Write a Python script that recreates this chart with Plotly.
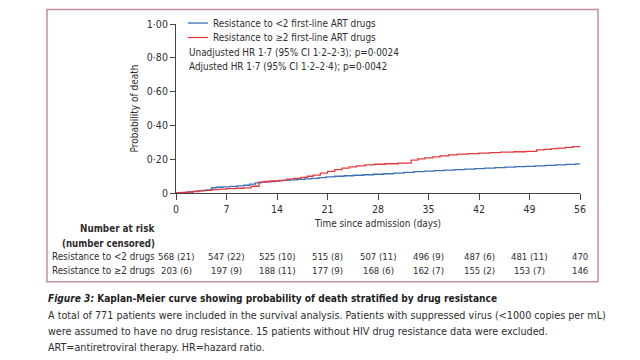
import plotly.graph_objects as go

# ---- data ----
days_lt2 = [0,0.6,1.2,1.8,2.4,3,3.6,4.2,4.9,5.6,6.5,7.5,8.5,9.4,10.2,11,11.8,12.8,13.8,14.8,
            15.8,16.8,17.8,18.8,19.8,20.8,22,23.3,24.6,26,27.4,28.8,30.2,31.6,33,34.4,35.8,37.2,38.6,40,
            41.4,42.8,44.2,45.6,47,48.4,49.8,51.2,52.6,54,55.4,56]
prob_lt2 = [0,0.002,0.004,0.007,0.010,0.013,0.016,0.019,0.031,0.034,0.036,0.039,0.042,0.046,0.052,0.060,0.064,0.068,0.072,0.075,
            0.078,0.081,0.084,0.087,0.091,0.095,0.099,0.102,0.105,0.108,0.111,0.114,0.118,0.122,0.126,0.129,0.132,0.135,0.138,0.141,
            0.144,0.147,0.150,0.153,0.156,0.158,0.161,0.164,0.166,0.169,0.172,0.173]
days_ge2 = [0,0.8,1.6,2.4,3.2,4,5,6,7,8.2,9.4,10.4,11.5,12.2,13.2,14.3,15.3,16.3,17.3,18.2,
            19,20,21,22,23,24,25,26.2,27.5,29,30.8,32.6,33.5,34.5,35.6,36.6,37.8,39,40.5,42,
            43.5,45,46.8,48.5,50,51,52,53,54,55,56]
prob_ge2 = [0,0.003,0.006,0.009,0.013,0.016,0.020,0.023,0.026,0.028,0.030,0.040,0.064,0.068,0.071,0.075,0.082,0.087,0.092,0.099,
            0.106,0.118,0.128,0.138,0.147,0.155,0.160,0.166,0.170,0.173,0.177,0.195,0.202,0.208,0.214,0.220,0.226,0.230,0.233,0.236,
            0.239,0.242,0.244,0.246,0.255,0.258,0.262,0.266,0.270,0.275,0.279]

x_ticks = [0, 7, 14, 21, 28, 35, 42, 49, 56]
y_ticks = [0, 0.2, 0.4, 0.6, 0.8, 1.0]
y_ticktext = ["0", "0·20", "0·40", "0·60", "0·80", "1·00"]

risk_lt2 = ["568 (21)", "547 (22)", "525 (10)", "515 (8)", "507 (11)", "496 (9)", "487 (6)", "481 (11)", "470"]
risk_ge2 = ["203 (6)", "197 (9)", "188 (11)", "177 (9)", "168 (6)", "162 (7)", "155 (2)", "153 (7)", "146"]

series_names = ["Resistance to <2 first-line ART drugs", "Resistance to ≥2 first-line ART drugs"]
row_names = ["Resistance to <2 drugs", "Resistance to ≥2 drugs"]
stats_lines = ["Unadjusted HR 1·7 (95% CI 1·2–2·3); p=0·0024",
               "Adjusted HR 1·7 (95% CI 1·2–2·4); p=0·0042"]
caption_title = "<b><i>Figure 3:</i> Kaplan-Meier curve showing probability of death stratified by drug resistance</b>"
caption_lines = ["A total of 771 patients were included in the survival analysis. Patients with suppressed virus (<1000 copies per mL)",
                 "were assumed to have no drug resistance. 15 patients without HIV drug resistance data were excluded.",
                 "ART=antiretroviral therapy. HR=hazard ratio."]

# ---- layout geometry (reference pixels; the page body adds an 8px offset) ----
OFF = 8
W, H = 640 - OFF, 360 - OFF
L, R, T, B = 176 - OFF, 580 - OFF, 18 - OFF, 193 - OFF
def px(xp):
    return (xp - OFF - L) / (R - L)
def py(yp):
    return (B - (yp - OFF)) / (B - T)

FONT = "DejaVu Sans Condensed, Liberation Sans, sans-serif"
TXT = "#2e2e2e"
BLUE = "#3a70b5"
RED = "#e23b3f"

fig = go.Figure()
fig.add_trace(go.Scatter(x=days_lt2, y=prob_lt2, mode="lines", line=dict(color=BLUE, width=1.3, shape="hv"),
                         name=series_names[0], showlegend=False))
fig.add_trace(go.Scatter(x=days_ge2, y=prob_ge2, mode="lines", line=dict(color=RED, width=1.3, shape="hv"),
                         name=series_names[1], showlegend=False))

shapes = []
annotations = []

# outer pink box
shapes.append(dict(type="rect", xref="paper", yref="paper", x0=px(47), x1=px(598), y0=py(285), y1=py(3),
                   line=dict(color="#c98ba0", width=1.5), layer="below"))

# legend
for i, (nm, col) in enumerate(zip(series_names, [BLUE, RED])):
    yy = py(17 + 15 * i)
    shapes.append(dict(type="line", xref="paper", yref="paper", x0=px(188), x1=px(208), y0=yy, y1=yy,
                       line=dict(color=col, width=1.3)))
    annotations.append(dict(xref="paper", yref="paper", x=px(211), y=yy, text=nm, showarrow=False,
                            xanchor="left", yanchor="middle", font=dict(family=FONT, size=9.9, color=TXT)))
for i, s in enumerate(stats_lines):
    annotations.append(dict(xref="paper", yref="paper", x=px(187), y=py(47 + 14.5 * i), text=s, showarrow=False,
                            xanchor="left", yanchor="middle", font=dict(family=FONT, size=9.9, color=TXT)))

# number at risk
RISK_FS = 9.8
annotations.append(dict(xref="paper", yref="paper", x=px(157), y=py(230), text="<b>Number at risk</b>",
                        showarrow=False, xanchor="right", yanchor="middle", font=dict(family=FONT, size=9.8, color=TXT)))
annotations.append(dict(xref="paper", yref="paper", x=px(157), y=py(245), text="<b>(number censored)</b>",
                        showarrow=False, xanchor="right", yanchor="middle", font=dict(family=FONT, size=9.6, color=TXT)))
for r, (rn, vals) in enumerate(zip(row_names, [risk_lt2, risk_ge2])):
    yy = py(259 + 14 * r)
    annotations.append(dict(xref="paper", yref="paper", x=px(157), y=yy, text=rn, showarrow=False,
                            xanchor="right", yanchor="middle", font=dict(family=FONT, size=RISK_FS, color=TXT)))
    for xv, v in zip(x_ticks, vals):
        annotations.append(dict(xref="x", yref="paper", x=xv, y=yy, text=v, showarrow=False,
                                xanchor="center", yanchor="middle", font=dict(family=FONT, size=RISK_FS - 0.3, color=TXT)))

# caption
annotations.append(dict(xref="paper", yref="paper", x=px(46), y=py(302), text=caption_title, showarrow=False,
                        xanchor="left", yanchor="middle", font=dict(family=FONT, size=10.1, color="#1e1e1e")))
for i, s in enumerate(caption_lines):
    annotations.append(dict(xref="paper", yref="paper", x=px(46), y=py(320 + 16.5 * i), text=s, showarrow=False,
                            xanchor="left", yanchor="middle", font=dict(family=FONT, size=10.7, color="#2e2e2e")))

fig.update_layout(
    width=W, height=H,
    margin=dict(l=L, r=W - R, t=T, b=H - B, pad=0),
    paper_bgcolor="white", plot_bgcolor="white",
    font=dict(family=FONT, size=10, color=TXT),
    shapes=shapes, annotations=annotations,
    xaxis=dict(range=[0, 56], tickvals=x_ticks, ticks="outside", ticklen=6, tickcolor="#444", showline=True,
               linecolor="#444", linewidth=1, showgrid=False, zeroline=False, fixedrange=True,
               tickfont=dict(family=FONT, size=10.5, color=TXT),
               title=dict(text="Time since admission (days)", font=dict(family=FONT, size=9.9, color=TXT), standoff=6)),
    yaxis=dict(range=[0, 1], tickvals=y_ticks, ticktext=y_ticktext, ticks="outside", ticklen=5, tickcolor="#444",
               showline=True, linecolor="#444", linewidth=1, showgrid=False, zeroline=False, fixedrange=True,
               tickfont=dict(family=FONT, size=10.5, color=TXT),
               title=dict(text="Probability of death", font=dict(family=FONT, size=10, color=TXT), standoff=6)),
)

fig.write_html("out.html", config={"displayModeBar": False})
